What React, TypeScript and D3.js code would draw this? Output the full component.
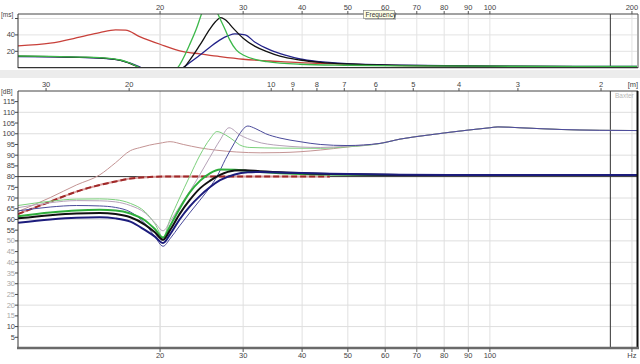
import React from 'react';
import * as d3 from 'd3';

// frequency axis ticks (Hz) and wavelength ticks (m) on the SPL panel
const freqTicks = [20, 30, 40, 50, 60, 70, 80, 90, 100, 200];
const wavelengthTicks = [30, 20, 10, 9, 8, 7, 6, 5, 4, 3, 2];
const speedOfSound = 344;
const markerFreq = 180;
const msTicks = [20, 40, 60];
const msLabels = [20, 40];
const dbTicks = [5, 10, 15, 20, 25, 30, 35, 40, 45, 50, 55, 60, 65, 70, 75, 80, 85, 90, 95, 100, 105, 110, 115];
const dbGrid = [10, 20, 30, 40, 50, 60, 70, 90, 100, 110];
const targetDb = 80;

// group delay (ms)
const gdRedFreq = [10, 11.7, 13.5, 14.9, 16.1, 16.9, 18.1, 20, 22.4, 24.3, 26.8, 30, 34.2, 39.6, 43.7, 49.8, 64.5, 100, 205];
const gdRedMs = [26.6, 29.9, 37.2, 42.9, 46.2, 45.8, 38, 28.6, 19.6, 16.8, 13.5, 10.3, 8.2, 6.1, 5.4, 4.2, 2.6, 1.6, 1];

const gdGreenFreq = [10, 11.7, 13.5, 14.9, 16.5, 17.3, 18.1, 19, 20, 21, 21.8, 23.1, 23.9, 24.5, 25.5, 26.5, 27.5, 28.1, 29, 30, 33.7, 39.6, 49.8, 64.5, 100, 205];
const gdGreenMs = [14.3, 13.8, 13, 12.3, 9.4, 5.4, 0, -6, -10, -8, 0, 28, 48, 66, 90, 66, 46, 33.9, 21.7, 15.5, 7.3, 4.2, 3, 2.2, 1.8, 1.5];

const gdBlackFreq = [10, 11.7, 13.5, 14.9, 16.5, 17.3, 18.1, 19, 20, 21, 22.4, 23.1, 24.3, 25.5, 26.2, 26.9, 27.5, 28.6, 30, 31.8, 33.7, 35.9, 39.6, 43.7, 49.8, 64.5, 100, 205];
const gdBlackMs = [14, 13.5, 12.7, 12, 9, 5, 0, -5, -8, -4, 0, 9, 27.8, 47, 56, 61.2, 58.5, 48, 36, 26, 19.6, 14, 9.4, 6.6, 4.5, 2.8, 1.8, 1.2];

const gdBlueFreq = [10, 11.7, 13.5, 14.9, 16.5, 17.3, 18.1, 19, 20, 21, 22.4, 23.1, 24.3, 25.5, 26.8, 27.9, 28.8, 30.3, 31.8, 34.2, 37, 39.6, 43.7, 49.8, 64.5, 100, 205];
const gdBlueMs = [13.6, 13.2, 12.5, 11.8, 9, 5.5, 1, -5, -8, -4, 0, 6, 15.5, 25, 34, 39, 41.3, 40, 31, 21.7, 15, 10.6, 7.3, 4.8, 3, 2, 1.5];

// SPL (dB)
const splTailFreq = [64.5, 74.7, 90.7, 100, 104, 115.8, 140.8, 171, 205];
const splTailDb = [97.5, 99.5, 101.8, 102.8, 103.2, 102.8, 102, 101.6, 101.5];

const splPinkFreq = [10, 11.7, 13.3, 14.9, 16.1, 17.3, 18.1, 19, 20, 21, 22.4, 24.3, 26.4, 29, 32.6, 35.9, 39.6, 43.7, 49.8, 58.5];
const splPinkDb = [63.7, 70.2, 76.1, 80.8, 86.5, 92.1, 93.5, 94.7, 95.6, 96.3, 95, 93.4, 92.3, 91.5, 91.1, 91.2, 91.6, 92.4, 93.8, 95.5];

const splRedFreq = [10, 11.7, 13.3, 14.9, 16.1, 17.3, 19, 20.5, 45.8];
const splRedDb = [62.5, 68.3, 73, 76.1, 77.7, 79.1, 79.8, 80, 80];

const splThinGreenFreq = [10, 11.7, 13.3, 14.9, 16.1, 17.3, 18.6, 19.5, 20.3, 21, 22, 23.1, 24.3, 25.5, 26.4, 27.5, 28.8, 29.5, 31, 35.9, 43.7, 49.8, 58.5];
const splThinGreenDb = [66.5, 68.5, 69.5, 69.6, 69.2, 67.5, 63.5, 58, 51.8, 60, 70, 80, 90, 97.5, 101, 99.5, 96.5, 94.8, 93.6, 93.3, 93.2, 93.9, 95.4];

const splLavenderFreq = [10, 11.7, 13.3, 14.9, 16.1, 17.3, 18.6, 19.5, 20.3, 21, 22, 23.1, 24.3, 25.5, 26.8, 28, 29.5, 31.8, 35.9, 43.7, 49.8, 58.5];
const splLavenderDb = [65.5, 67.8, 68.8, 68.7, 68.2, 66.5, 63, 58.5, 54.7, 59, 66, 73, 81, 89, 97, 102.8, 99.5, 96.5, 94.5, 93.6, 94.2, 95.5];

const splThinBlueFreq = [10, 11.7, 13.3, 14.9, 16.1, 17.3, 18.6, 19.5, 20.3, 21, 22, 23.1, 24.3, 25.5, 26.4, 27.5, 28.8, 29.5, 30.7, 31.8, 33.5, 35.9, 39.6, 43.7, 49.8, 58.5];
const splThinBlueDb = [64, 65.8, 66.5, 66.3, 65.6, 63.5, 58, 52, 47.5, 51, 57, 63, 69, 75, 80, 88, 96, 100, 103.6, 102.5, 100, 98, 96.3, 95, 94.5, 95.5];

const splGreenFreq = [10, 11.7, 13.3, 14.9, 16.1, 17.3, 18.6, 19.5, 20.3, 21, 22, 23.1, 24.3, 25.5, 26.8, 28.8, 31, 35.9, 43.7, 58.5, 90.7, 205];
const splGreenDb = [61.5, 63.2, 64.2, 64.5, 64.2, 62.8, 59.5, 55.5, 51.5, 57, 65, 72.5, 78, 81.5, 83.3, 83.2, 82.5, 81.6, 81, 80.8, 80.7, 80.7];

const splBlackFreq = [10, 11.7, 13.3, 14.9, 16.1, 17.3, 18.6, 19.5, 20.3, 21, 22, 23.1, 24.3, 25.5, 26.8, 28.8, 30.3, 32.6, 37.7, 45.8, 64.5, 205];
const splBlackDb = [60.5, 62, 62.8, 63, 62.5, 61, 57.5, 54, 50.5, 55, 62.5, 69, 74.5, 78, 80.8, 82.8, 83, 82.5, 81.8, 81.2, 80.8, 80.7];

const splBlueFreq = [10, 11.7, 13.3, 14.9, 16.1, 17.3, 18.6, 19.5, 20.3, 21, 22, 23.1, 24.3, 25.5, 26.8, 28.8, 30.7, 32.6, 37.7, 45.8, 64.5, 90.7, 205];
const splBlueDb = [58.5, 60, 60.8, 61, 60.5, 59, 55, 52, 49, 53, 60, 66, 71, 75, 78.3, 81, 82, 82.2, 81.8, 81.3, 80.9, 80.7, 80.7];

const pair = (f: number[], v: number[]) => f.map((d, i) => [d, v[i]] as [number, number]);

const font = '"Liberation Sans", Arial, sans-serif';

export default function App() {
  const x = d3.scaleLog().domain([10, 205]).range([18, 637]);
  const yGd = d3.scaleLinear().domain([0, 65.5]).range([67.7, 14]);
  const ySpl = d3.scaleLinear().domain([0, 120]).range([348, 90.9]);

  const gdLine = d3.line<[number, number]>().x(d => x(d[0])).y(d => yGd(d[1])).curve(d3.curveMonotoneX);
  const splLine = d3.line<[number, number]>().x(d => x(d[0])).y(d => ySpl(d[1])).curve(d3.curveMonotoneX);

  const gdSeries = [
    { key: 'red', data: pair(gdRedFreq, gdRedMs), color: '#c8403a' },
    { key: 'blue', data: pair(gdBlueFreq, gdBlueMs), color: '#23238a' },
    { key: 'black', data: pair(gdBlackFreq, gdBlackMs), color: '#111111' },
    { key: 'green', data: pair(gdGreenFreq, gdGreenMs), color: '#3cb84a' },
  ];

  const splSeries = [
    { key: 'pink', data: pair(splPinkFreq.concat(splTailFreq), splPinkDb.concat(splTailDb)), color: '#c49494', w: 1 },
    { key: 'thinGreen', data: pair(splThinGreenFreq.concat(splTailFreq), splThinGreenDb.concat(splTailDb)), color: '#7cd07c', w: 1 },
    { key: 'lavender', data: pair(splLavenderFreq.concat(splTailFreq), splLavenderDb.concat(splTailDb)), color: '#b6a2b8', w: 1 },
    { key: 'thinBlue', data: pair(splThinBlueFreq.concat(splTailFreq), splThinBlueDb.concat(splTailDb)), color: '#4a4a9a', w: 1 },
    { key: 'green', data: pair(splGreenFreq, splGreenDb), color: '#2eae3c', w: 2 },
    { key: 'black', data: pair(splBlackFreq, splBlackDb), color: '#111111', w: 2 },
    { key: 'blue', data: pair(splBlueFreq, splBlueDb), color: '#1c1c7c', w: 2 },
  ];

  const [x0, x1] = x.range();

  return (
    <svg
      width={640}
      height={364}
      style={{ position: 'absolute', left: 0, top: 0, background: '#fff', fontFamily: font }}
    >
      <defs>
        <clipPath id="gdClip">
          <rect x={x0} y={14} width={x1 - x0} height={54} />
        </clipPath>
        <clipPath id="splClip">
          <rect x={x0} y={91} width={x1 - x0} height={257} />
        </clipPath>
      </defs>

      {/* ---- group delay panel ---- */}
      {freqTicks.map(f => (
        <line key={'gv' + f} x1={x(f)} x2={x(f)} y1={14} y2={68} stroke={f === 20 ? '#d0d0d0' : '#e3e3e3'} />
      ))}
      {msTicks.map(v => (
        <line key={'gh' + v} x1={x0} x2={x1} y1={yGd(v)} y2={yGd(v)} stroke="#e3e3e3" />
      ))}
      <line x1={x(markerFreq)} x2={x(markerFreq)} y1={14} y2={68} stroke="#333" />
      <g clipPath="url(#gdClip)">
        {gdSeries.map(s => (
          <path key={s.key} d={gdLine(s.data) || ''} fill="none" stroke={s.color} strokeWidth={1.3} />
        ))}
      </g>
      <line x1={x0} x2={x1 + 1} y1={14} y2={14} stroke="#444" />
      <line x1={x0} x2={x1 + 1} y1={67.7} y2={67.7} stroke="#333" strokeWidth={1.2} />
      <line x1={x0} x2={x0} y1={14} y2={68} stroke="#333" />
      <line x1={x1 + 1} x2={x1 + 1} y1={14} y2={68} stroke="#555" />
      {freqTicks.map(f => (
        <g key={'gt' + f}>
          <line x1={x(f)} x2={x(f)} y1={11} y2={14} stroke="#555" />
          <text x={x(f)} y={10} fontSize={7.5} fill="#444" textAnchor="middle">{f}</text>
        </g>
      ))}
      {msTicks.map(v => (
        <line key={'gy' + v} x1={x0 - 3} x2={x0} y1={yGd(v)} y2={yGd(v)} stroke="#444" />
      ))}
      {msLabels.map(v => (
        <text key={'gl' + v} x={15} y={yGd(v) + 2.5} fontSize={7.5} fill="#444" textAnchor="end">{v}</text>
      ))}
      <text x={1} y={17} fontSize={6.5} fill="#444">[ms]</text>

      {/* tooltip */}
      <rect x={365} y={12} width={31} height={8} fill="#888" opacity={0.5} />
      <rect x={363.5} y={10.5} width={31} height={8} fill="#ffffe6" stroke="#777" strokeWidth={0.6} />
      <text x={365.5} y={17} fontSize={6.5} fill="#333">Frequency</text>

      {/* splitter */}
      <rect x={0} y={70} width={640} height={8} fill="#ececec" />

      {/* ---- SPL panel ---- */}
      {freqTicks.map(f => (
        <line key={'sv' + f} x1={x(f)} x2={x(f)} y1={91} y2={348} stroke={f === 20 ? '#d0d0d0' : '#e0e0e0'} />
      ))}
      {dbGrid.map(v => (
        <line key={'sh' + v} x1={x0} x2={x1} y1={ySpl(v)} y2={ySpl(v)} stroke="#dedede" />
      ))}
      <line x1={x(markerFreq)} x2={x(markerFreq)} y1={91} y2={348} stroke="#333" />
      <line x1={x0} x2={x1} y1={ySpl(targetDb)} y2={ySpl(targetDb)} stroke="#333" />
      <g clipPath="url(#splClip)">
        {splSeries.slice(0, 1).map(s => (
          <path key={s.key} d={splLine(s.data) || ''} fill="none" stroke={s.color} strokeWidth={s.w} />
        ))}
        <path d={splLine(pair(splRedFreq, splRedDb)) || ''} fill="none" stroke="#dca0a0" strokeWidth={2} />
        <path d={splLine(pair(splRedFreq, splRedDb)) || ''} fill="none" stroke="#a02828" strokeWidth={2} strokeDasharray="6,3" />
        {splSeries.slice(1).map(s => (
          <path key={s.key} d={splLine(s.data) || ''} fill="none" stroke={s.color} strokeWidth={s.w} />
        ))}
      </g>
      <line x1={x0} x2={x1 + 1} y1={91} y2={91} stroke="#444" />
      <line x1={x0} x2={x0} y1={91} y2={348} stroke="#333" />
      <line x1={x1 + 0.5} x2={x1 + 0.5} y1={91} y2={349} stroke="#111" strokeWidth={2} />
      <line x1={x0 - 1} x2={x1 + 2} y1={348} y2={348} stroke="#6a6a6a" strokeWidth={2.5} />
      {wavelengthTicks.map(m => (
        <g key={'wt' + m}>
          <line x1={x(speedOfSound / m)} x2={x(speedOfSound / m)} y1={88} y2={91} stroke="#555" />
          <text x={x(speedOfSound / m)} y={87} fontSize={7.5} fill="#444" textAnchor="middle">{m}</text>
        </g>
      ))}
      <text x={633} y={87} fontSize={7.5} fill="#444" textAnchor="middle">[m]</text>
      {dbTicks.map(v => (
        <g key={'dt' + v}>
          <line x1={x0 - 3} x2={x0} y1={ySpl(v)} y2={ySpl(v)} stroke="#444" />
          <text x={15} y={ySpl(v) + 2.5} fontSize={7.5} fill={v >= 15 && v <= 50 ? '#a8a8a8' : '#444'} textAnchor="end">{v}</text>
        </g>
      ))}
      <text x={1} y={94} fontSize={6.5} fill="#444">[dB]</text>
      <text x={615} y={98} fontSize={6.5} fill="#b8b8b8">Baxter</text>
      {freqTicks.map(f => (
        <g key={'bt' + f}>
          <line x1={x(f)} x2={x(f)} y1={348} y2={352} stroke="#555" />
          <text x={x(f)} y={358} fontSize={7.5} fill="#444" textAnchor="middle">{f === 200 ? 'Hz' : f}</text>
        </g>
      ))}
    </svg>
  );
}
